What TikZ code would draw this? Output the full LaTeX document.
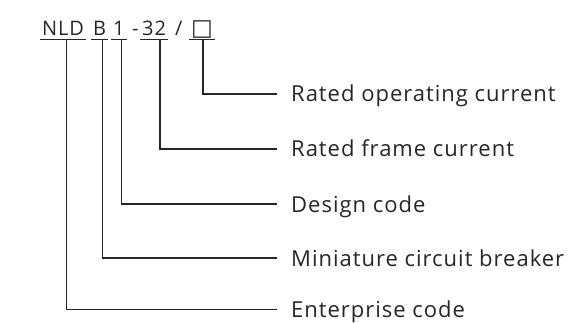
\documentclass[tikz,border=0pt]{standalone}
\usepackage{fontspec}
\setmainfont{Open Sans}[LetterSpace=4.5]
\newfontfamily\symfont{DejaVu Sans}
\usetikzlibrary{positioning}
\definecolor{ink}{HTML}{262626}

\begin{document}
\begin{tikzpicture}[
    x=1pt, y=-1pt,
    code/.style={anchor=base west, inner xsep=2pt, inner ysep=3.5pt, text height=14pt, text depth=0pt, font=\fontsize{20}{24}\selectfont, text=ink},
    sep/.style={anchor=base west, inner sep=0pt, font=\fontsize{20}{24}\selectfont, text=ink},
    desc/.style={anchor=west, inner sep=0pt, text height=16pt, text depth=0pt, font=\fontsize{22}{26}\selectfont, text=ink},
    uline/.style={line width=1.2pt, draw=ink},
    lead/.style={line width=1.2pt, draw=ink, shorten >=14pt},
    ]
    \useasboundingbox (0,0) rectangle (569,323);

    % Model code
    \node (nld) [code] at (40,36) {NLD};
    \node (brk) [code] at (91,36) {B};
    \node (des) [code] at (111,36) {1};
    \node (dash) [sep] at (132,36) {-};
    \node (frm) [code] at (140,36) {32};
    \node (slash) [sep] at (175,36) {/};
    \node (opr) [code] at (189,36) {\symfont\fontsize{23}{24}\selectfont □};

    \draw[uline] (nld.south west) -- (nld.south east);
    \draw[uline] (brk.south west) -- (brk.south east);
    \draw[uline] (des.south west) -- (des.south east);
    \draw[uline] (frm.south west) -- (frm.south east);
    \draw[uline] (opr.south west) -- (opr.south east);

    % Descriptions
    \node (lopr) [desc] at (291,94) {Rated operating current};
    \node (lfrm) [desc] at (291,149) {Rated frame current};
    \node (ldes) [desc] at (291,204) {Design code};
    \node (lbrk) [desc] at (291,258) {Miniature circuit breaker};
    \node (lent) [desc] at (291,309.5) {Enterprise code};

    \draw[lead] ([xshift=14pt]opr.south west) |- (lopr);
    \draw[lead] ([xshift=20pt]frm.south west) |- (lfrm);
    \draw[lead] ([xshift=10.7pt]des.south west) |- (ldes);
    \draw[lead] ([xshift=11.7pt]brk.south west) |- (lbrk);
    \draw[lead] ([xshift=26.7pt]nld.south west) |- (lent);
\end{tikzpicture}
\end{document}
